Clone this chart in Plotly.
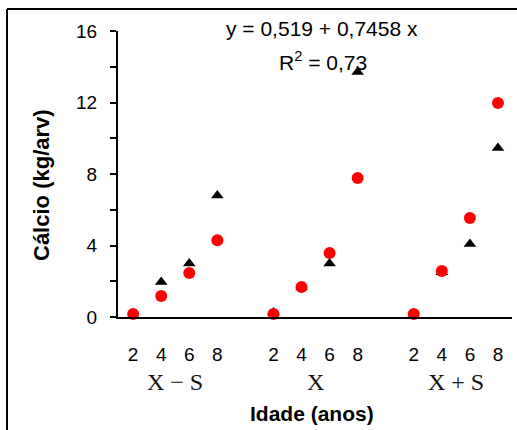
import plotly.graph_objects as go

# Idade (anos) within each group and the group labels
ages = [2, 4, 6, 8]
groups = ["X \u2212 S", "X", "X + S"]

# Cálcio (kg/arv) per group, ages 2..8
circle_vals = [
    [0.17, 1.17, 2.46, 4.30],   # X - S
    [0.17, 1.68, 3.58, 7.78],   # X
    [0.17, 2.57, 5.54, 11.97],  # X + S
]
triangle_vals = [
    [0.10, 1.96, 3.00, 6.80],
    [0.25, 1.65, 3.00, 13.70],
    [0.10, 2.50, 4.08, 9.45],
]
y_ticks = [0, 4, 8, 12, 16]

equation_text = "y = 0,519 + 0,7458 x"
r2_text = "R<sup>2</sup> = 0,73"
x_title = "<b>Idade (anos)</b>"
y_title = "<b>Cálcio (kg/arv)</b>"

W, H = 517, 430
L, R, T, B = 118, 5, 31, 113

# positions on a shared numeric x axis: 4 slots per group, one empty slot between groups
xpos, xlab, circ_y, tri_y = [], [], [], []
for g in range(len(groups)):
    for i, a in enumerate(ages):
        xpos.append(g * 5 + i)
        xlab.append(str(a))
        circ_y.append(circle_vals[g][i])
        tri_y.append(triangle_vals[g][i])

fig = go.Figure()
# triangles first so the circles sit on top where they coincide
fig.add_trace(go.Scatter(
    x=xpos, y=tri_y, mode="markers",
    marker=dict(symbol="triangle-up", size=11, color="#000000"),
    cliponaxis=False, showlegend=False,
))
fig.add_trace(go.Scatter(
    x=xpos, y=circ_y, mode="markers",
    marker=dict(symbol="circle", size=12, color="#ff0000"),
    cliponaxis=False, showlegend=False,
))

pw = W - L - R
ph = H - T - B


def px_to_paper_x(px):
    return (px - L) / pw


def px_to_paper_y(py):
    return (H - B - py) / ph


shapes = [
    dict(type="line", xref="paper", yref="paper",
         x0=px_to_paper_x(7), x1=px_to_paper_x(7),
         y0=px_to_paper_y(9), y1=px_to_paper_y(431),
         line=dict(color="black", width=2)),
    dict(type="line", xref="paper", yref="paper",
         x0=px_to_paper_x(7), x1=px_to_paper_x(518),
         y0=px_to_paper_y(9), y1=px_to_paper_y(9),
         line=dict(color="black", width=2)),
]

sans = "Liberation Sans, Arial"
annotations = [
    dict(text=equation_text, xref="paper", yref="paper",
         x=px_to_paper_x(322), y=px_to_paper_y(29), showarrow=False,
         xanchor="center", yanchor="middle",
         font=dict(family=sans, size=21, color="black")),
    dict(text=r2_text, xref="paper", yref="paper",
         x=px_to_paper_x(323), y=px_to_paper_y(61), showarrow=False,
         xanchor="center", yanchor="middle",
         font=dict(family=sans, size=21, color="black")),
    dict(text=x_title, xref="paper", yref="paper",
         x=px_to_paper_x(312), y=px_to_paper_y(413), showarrow=False,
         xanchor="center", yanchor="middle",
         font=dict(family=sans, size=21, color="black")),
    dict(text=y_title, xref="paper", yref="paper", textangle=-90,
         x=px_to_paper_x(41), y=px_to_paper_y(185), showarrow=False,
         xanchor="center", yanchor="middle",
         font=dict(family=sans, size=22, color="black")),
]
for g, name in enumerate(groups):
    annotations.append(dict(
        text=name, xref="x", yref="paper",
        x=g * 5 + 1.5, y=px_to_paper_y(382), showarrow=False,
        xanchor="center", yanchor="middle",
        font=dict(family="Liberation Serif, Times New Roman", size=24, color="#111111"),
    ))

fig.update_layout(
    width=W, height=H,
    margin=dict(l=L, r=R, t=T, b=B),
    paper_bgcolor="white", plot_bgcolor="white",
    shapes=shapes, annotations=annotations,
    font=dict(family=sans, color="black"),
)
fig.update_xaxes(
    range=[-0.54, 13.5], tickvals=xpos, ticktext=xlab,
    showgrid=False, zeroline=False, showline=True, linecolor="black", linewidth=2,
    ticks="", ticklabelstandoff=19,
    tickfont=dict(size=19, color="black"),
)
fig.update_yaxes(
    range=[0, 16], tickvals=y_ticks,
    showgrid=False, zeroline=False, showline=True, linecolor="black", linewidth=2,
    ticks="outside", ticklen=6, tickwidth=2, tickcolor="black",
    minor=dict(dtick=2, ticks="outside", ticklen=6, tickwidth=2, tickcolor="black",
               showgrid=False),
    ticklabelstandoff=9,
    tickfont=dict(size=19, color="black"),
)

fig.write_html("out.html")
